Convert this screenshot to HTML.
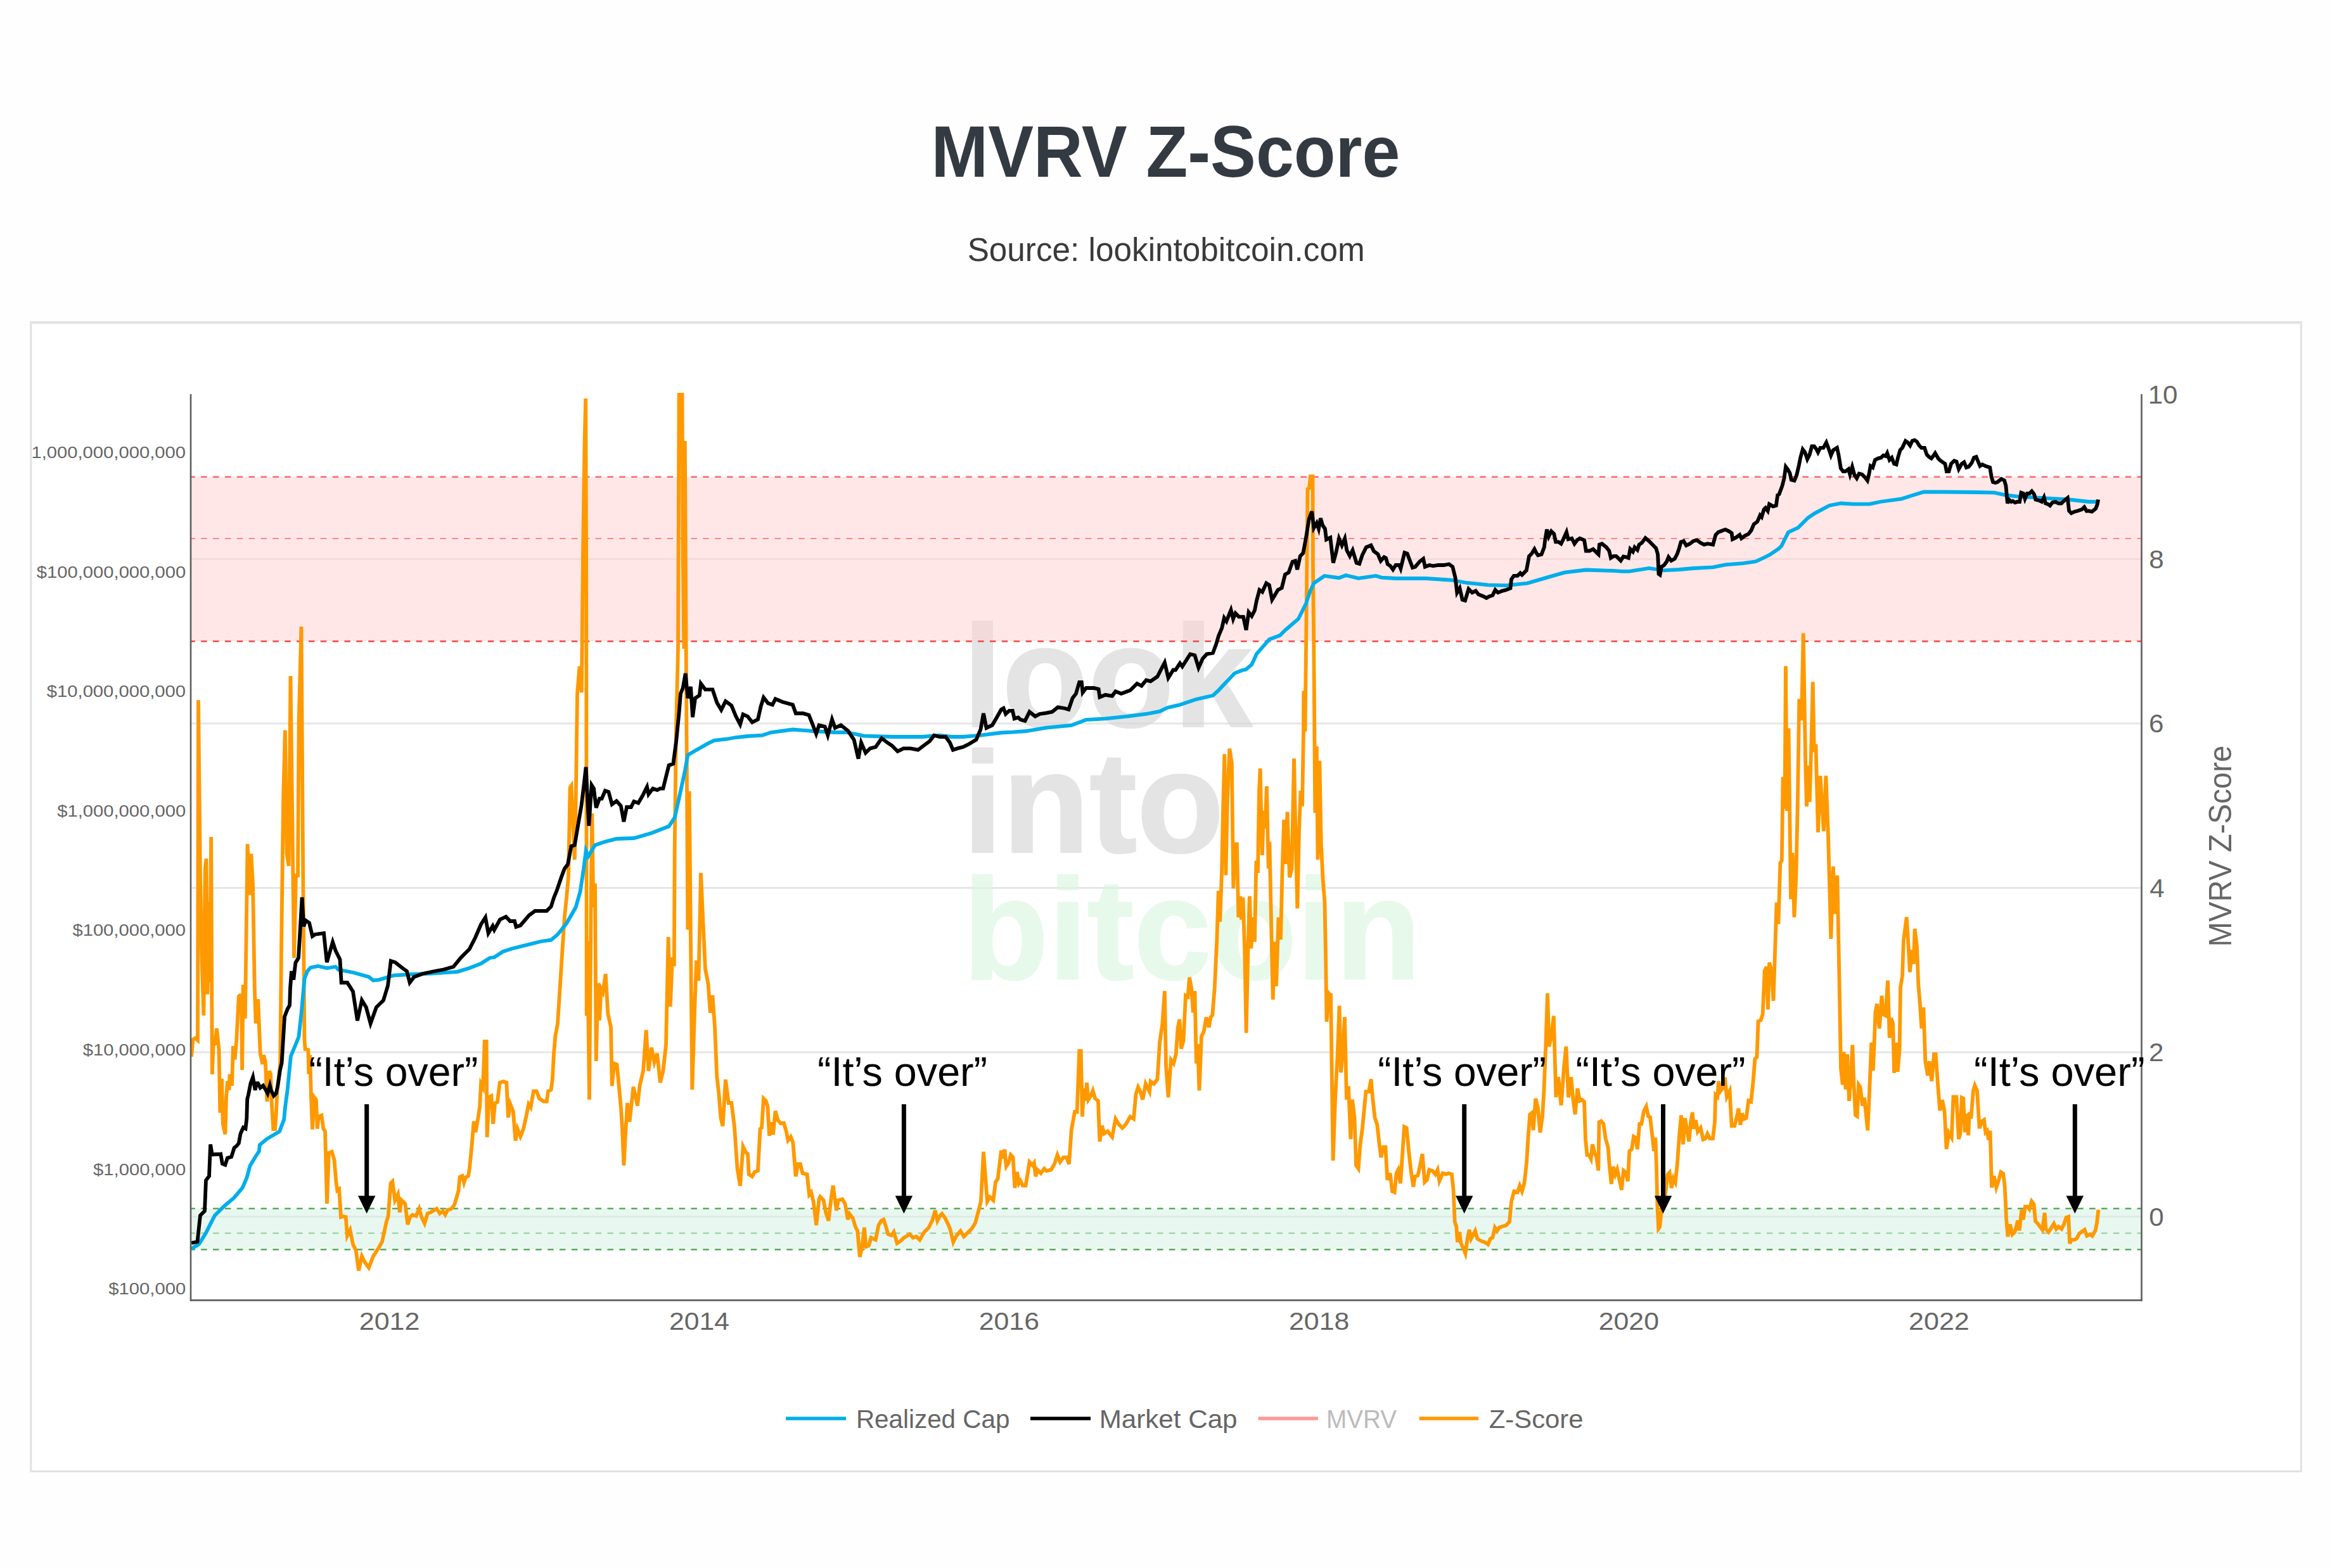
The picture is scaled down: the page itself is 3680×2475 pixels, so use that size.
<!DOCTYPE html><html><head><meta charset="utf-8"><title>MVRV Z-Score</title><style>html,body{margin:0;padding:0;background:#fefefe;width:3680px;height:2475px;overflow:hidden}svg{display:block;font-family:"Liberation Sans",sans-serif}</style></head><body><svg width="3680" height="2475" viewBox="0 0 3680 2475">
<rect width="3680" height="2475" fill="#fefefe"/>
<defs><clipPath id="pc"><rect x="301" y="620" width="3078" height="1432.4"/></clipPath><clipPath id="fc"><rect x="50" y="511" width="3581" height="1811"/></clipPath></defs>
<rect x="48.8" y="508.5" width="3582.5" height="1814" fill="#ffffff" stroke="#e0e2e2" stroke-width="3"/>
<line x1="48" x2="3633" y1="510.5" y2="510.5" stroke="#e6e7e7" stroke-width="2"/>
<line x1="301" x2="3379" y1="1920.50" y2="1920.50" stroke="#e6e6e6" stroke-width="3.2"/>
<line x1="301" x2="3379" y1="1661.00" y2="1661.00" stroke="#e6e6e6" stroke-width="3.2"/>
<line x1="301" x2="3379" y1="1401.50" y2="1401.50" stroke="#e6e6e6" stroke-width="3.2"/>
<line x1="301" x2="3379" y1="1142.00" y2="1142.00" stroke="#e6e6e6" stroke-width="3.2"/>
<line x1="301" x2="3379" y1="882.50" y2="882.50" stroke="#e6e6e6" stroke-width="3.2"/>
<g opacity="0.64"><text transform="translate(1519.77,1147) scale(0.9755,1)" font-family="Liberation Sans" font-weight="bold" font-size="227.5" fill="#d6d6d6" stroke="#d6d6d6" stroke-width="2.67" stroke-linejoin="round">look</text></g>
<g opacity="0.64"><text transform="translate(1519.57,1345) scale(0.9875,1)" font-family="Liberation Sans" font-weight="bold" font-size="227.5" fill="#d6d6d6" stroke="#d6d6d6" stroke-width="2.63" stroke-linejoin="round">into</text></g>
<g opacity="0.64"><text transform="translate(1519.87,1545) scale(0.9776,1)" font-family="Liberation Sans" font-weight="bold" font-size="225.5" fill="#dbf6e0" stroke="#dbf6e0" stroke-width="2.66" stroke-linejoin="round">bitcoin</text></g>
<rect x="301" y="752.75" width="3078" height="259.50" fill="#ffcfcf" fill-opacity="0.5"/>
<rect x="301" y="1907.53" width="3078" height="64.88" fill="#d1f1e1" fill-opacity="0.5"/>
<g clip-path="url(#pc)">
<line x1="298.34" x2="3379" y1="752.75" y2="752.75" stroke="#f46a6a" stroke-width="2.6" stroke-dasharray="9.5 9.36"/>
<line x1="298.34" x2="3379" y1="1012.25" y2="1012.25" stroke="#f24646" stroke-width="2.3" stroke-dasharray="9.5 9.36"/>
<line x1="298.34" x2="3379" y1="850.06" y2="850.06" stroke="#f97a7a" stroke-width="1.7" stroke-dasharray="9.5 9.36"/>
<line x1="298.34" x2="3379" y1="1907.53" y2="1907.53" stroke="#4b9f4b" stroke-width="2.2" stroke-dasharray="9.5 9.36"/>
<line x1="298.34" x2="3379" y1="1972.40" y2="1972.40" stroke="#4b9f4b" stroke-width="2.2" stroke-dasharray="9.5 9.36"/>
<line x1="298.34" x2="3379" y1="1946.45" y2="1946.45" stroke="#93cc98" stroke-width="2.0" stroke-dasharray="9.5 9.36"/>
</g>
<g clip-path="url(#pc)" fill="none" stroke-miterlimit="4" stroke-width="5.8">
<polyline stroke="#ff9900" points="302.0,1668.0 304.5,1641.0 308.0,1638.6 312.0,1642.0 313.0,1105.0 316.0,1386.0 318.7,1520.0 321.4,1603.0 323.7,1370.6 325.6,1355.3 327.5,1569.5 329.4,1424.0 331.3,1550.4 333.2,1321.0 334.8,1695.7 336.6,1649.3 339.3,1647.5 342.0,1623.4 345.5,1656.4 347.3,1756.4 350.0,1702.9 351.8,1774.3 355.4,1790.4 357.1,1731.4 359.0,1706.4 361.6,1720.7 362.5,1695.7 366.0,1713.6 367.9,1651.0 370.5,1672.5 373.2,1642.0 376.8,1572.5 378.4,1571.4 381.0,1573.3 382.1,1689.0 383.7,1554.2 386.8,1607.7 390.6,1332.4 393.7,1412.7 396.3,1347.7 399.0,1395.5 401.8,1560.0 403.6,1615.4 407.1,1577.0 410.7,1661.8 414.3,1679.6 416.0,1665.4 418.8,1676.0 421.4,1738.6 423.2,1720.7 425.0,1690.4 427.1,1695.7 428.6,1738.6 431.2,1782.3 434.0,1782.3 435.7,1758.2 437.5,1720.7 442.2,1680.0 444.1,1489.2 447.2,1255.9 449.9,1152.7 452.6,1347.7 455.6,1366.8 458.5,1067.0 461.3,1294.0 464.0,1512.0 467.0,1382.0 470.0,1382.0 471.7,1135.4 475.5,989.0 477.8,1321.0 480.4,1640.0 481.6,1656.0 486.4,1657.0 487.3,1695.5 489.2,1665.0 491.0,1732.0 493.0,1782.6 496.0,1732.0 498.8,1735.7 500.7,1781.6 502.6,1762.5 507.4,1760.6 510.3,1781.6 513.0,1785.4 516.0,1900.0 518.9,1820.0 523.7,1818.0 527.5,1831.0 530.4,1865.8 532.3,1879.0 535.2,1877.0 538.0,1921.0 540.9,1920.0 545.7,1921.0 548.0,1950.6 552.5,1941.5 557.0,1964.0 561.7,1973.6 566.0,2005.7 571.0,1982.8 575.5,1992.0 582.0,2001.0 589.0,1982.8 598.0,1969.0 603.0,1960.0 610.0,1927.7 612.6,1920.0 616.5,1867.7 619.3,1864.8 623.2,1894.5 628.0,1885.0 630.8,1913.6 633.7,1894.5 639.4,1900.0 643.3,1932.8 647.0,1921.3 651.0,1917.5 656.7,1919.4 661.4,1908.0 665.3,1921.3 670.0,1931.0 674.8,1915.5 679.6,1913.6 689.2,1908.0 694.0,1915.5 698.8,1911.7 702.6,1917.5 706.4,1909.8 712.2,1908.0 717.0,1902.0 719.8,1892.6 723.6,1879.2 725.5,1858.0 729.4,1856.2 732.2,1866.8 735.1,1858.0 739.0,1856.2 740.9,1844.7 744.7,1806.5 747.6,1770.0 750.4,1787.3 754.2,1766.3 757.1,1747.2 759.0,1710.8 762.0,1716.5 764.8,1643.8 767.6,1643.8 768.6,1795.0 771.5,1731.8 775.3,1730.0 778.2,1774.0 781.0,1741.4 784.9,1739.5 788.7,1708.9 794.4,1707.0 799.3,1708.7 802.0,1763.8 805.3,1743.0 809.9,1754.7 813.5,1800.6 816.7,1782.0 821.3,1793.7 826.0,1782.0 830.5,1761.5 834.2,1743.0 837.4,1747.8 842.0,1722.5 846.6,1722.5 851.2,1734.0 858.0,1738.6 862.7,1738.6 865.0,1722.5 869.6,1720.0 871.8,1704.0 874.0,1662.8 876.4,1635.0 880.0,1616.0 887.0,1507.0 890.7,1450.0 894.3,1414.0 897.0,1383.0 899.6,1243.0 901.7,1240.0 903.2,1275.0 906.8,1357.0 908.6,1271.0 911.0,1095.0 914.6,1051.7 917.8,1093.0 920.0,875.0 922.5,700.0 924.2,629.0 925.2,900.0 925.7,1603.6 927.0,1485.7 930.0,1735.7 932.9,1396.4 934.3,1284.0 936.4,1432.0 939.0,1394.6 940.7,1675.0 943.6,1551.8 946.0,1610.7 948.6,1560.7 951.4,1566.0 955.7,1537.5 959.3,1600.0 964.0,1621.4 965.7,1714.3 969.3,1678.6 973.6,1680.4 976.4,1710.7 980.0,1750.0 982.0,1782.0 984.4,1839.6 986.7,1796.0 990.0,1741.0 993.5,1770.7 999.5,1715.6 1006.0,1745.5 1009.6,1713.3 1015.0,1690.4 1019.7,1626.0 1023.4,1690.4 1028.0,1653.6 1032.6,1676.6 1037.0,1662.8 1041.8,1708.7 1046.4,1690.4 1051.0,1649.0 1054.6,1479.0 1057.8,1589.0 1061.0,1511.0 1063.8,1525.0 1064.7,1340.0 1067.0,1148.0 1070.0,1024.0 1071.6,615.0 1076.5,615.0 1077.6,870.0 1079.4,1024.0 1080.8,696.0 1083.0,1079.0 1085.4,1467.6 1087.7,1249.0 1092.3,1720.0 1096.0,1598.5 1099.0,1515.8 1102.4,1548.0 1106.0,1378.0 1109.7,1460.7 1113.0,1529.6 1117.5,1552.6 1120.8,1598.5 1124.4,1571.0 1128.0,1621.5 1131.3,1699.5 1134.5,1727.0 1137.3,1763.8 1140.5,1777.6 1145.0,1704.0 1149.7,1741.0 1154.3,1741.0 1158.9,1777.6 1163.5,1844.0 1168.0,1871.8 1172.6,1809.8 1177.0,1819.0 1180.0,1821.4 1181.8,1853.6 1187.0,1857.0 1190.7,1850.0 1196.0,1848.0 1199.6,1782.0 1202.0,1780.0 1205.0,1734.0 1208.6,1737.5 1211.4,1746.4 1214.0,1792.8 1216.8,1771.4 1220.0,1791.0 1223.6,1753.6 1227.5,1768.0 1231.8,1773.0 1237.0,1773.0 1240.7,1785.7 1243.6,1800.0 1247.9,1794.6 1251.4,1803.6 1255.7,1857.0 1259.3,1837.5 1262.9,1837.5 1266.4,1851.8 1273.6,1853.6 1277.0,1885.7 1280.0,1882.0 1283.6,1896.4 1288.2,1934.0 1292.5,1892.9 1294.3,1889.0 1299.6,1894.6 1303.2,1914.0 1307.5,1926.8 1311.4,1892.9 1314.6,1871.4 1317.5,1892.9 1320.0,1910.7 1322.9,1894.6 1329.3,1892.9 1333.6,1900.0 1337.9,1925.0 1340.7,1916.0 1346.0,1923.2 1349.6,1935.7 1353.2,1943.0 1356.8,1984.0 1360.4,1967.9 1364.0,1937.5 1366.4,1967.9 1371.0,1966.0 1374.6,1953.6 1378.2,1955.4 1381.8,1957.0 1386.4,1934.0 1390.7,1926.8 1394.3,1925.0 1397.9,1935.7 1401.4,1948.0 1406.8,1950.0 1410.4,1944.6 1415.7,1962.5 1421.0,1959.0 1426.4,1953.6 1430.0,1951.8 1435.4,1948.0 1440.7,1953.6 1446.0,1951.8 1451.4,1957.0 1458.6,1944.6 1465.7,1937.5 1471.0,1926.8 1475.7,1910.7 1479.3,1926.8 1482.9,1919.6 1486.4,1916.0 1490.7,1921.4 1496.0,1932.0 1499.6,1941.0 1504.3,1960.7 1508.6,1951.8 1515.7,1943.0 1521.0,1951.8 1528.2,1944.6 1533.6,1939.3 1539.0,1930.4 1544.3,1910.7 1547.9,1896.4 1552.0,1817.9 1555.0,1857.0 1557.9,1896.4 1562.0,1889.3 1567.5,1894.6 1571.0,1866.0 1574.6,1860.7 1580.0,1816.0 1582.9,1828.6 1585.4,1814.3 1587.9,1841.0 1591.4,1835.7 1595.0,1823.0 1598.6,1826.8 1601.4,1875.0 1605.0,1850.0 1607.9,1867.9 1610.4,1864.0 1614.0,1871.4 1618.6,1871.4 1624.6,1834.0 1629.3,1839.3 1631.8,1835.7 1634.3,1857.0 1637.0,1846.4 1642.5,1851.8 1647.9,1844.6 1651.4,1848.2 1658.6,1846.4 1664.0,1837.5 1668.6,1823.0 1672.9,1834.0 1678.2,1826.8 1682.9,1826.8 1687.0,1837.5 1690.7,1784.0 1696.0,1755.0 1699.6,1755.0 1703.2,1659.0 1705.7,1659.0 1707.9,1762.5 1710.4,1717.9 1712.9,1737.5 1715.0,1709.0 1717.5,1735.7 1721.0,1730.4 1724.6,1721.4 1728.2,1734.0 1732.9,1737.5 1735.4,1801.8 1739.0,1776.8 1742.5,1789.3 1747.9,1785.7 1755.0,1794.6 1760.4,1766.0 1765.7,1775.0 1771.0,1780.4 1776.4,1775.0 1783.6,1762.5 1789.0,1766.0 1792.5,1726.8 1796.0,1716.0 1799.6,1723.2 1803.2,1735.7 1807.9,1710.7 1814.0,1723.2 1815.7,1707.0 1821.0,1710.7 1826.4,1703.6 1830.0,1646.4 1834.3,1616.0 1837.9,1564.3 1840.0,1682.0 1843.6,1732.0 1847.9,1673.0 1852.0,1678.6 1855.7,1664.3 1858.6,1623.0 1861.4,1609.0 1864.0,1655.4 1867.5,1642.9 1871.0,1571.4 1874.6,1573.2 1877.0,1542.9 1880.0,1559.0 1882.9,1598.2 1885.4,1564.3 1887.9,1678.6 1890.0,1648.2 1892.5,1721.4 1896.0,1635.7 1899.6,1628.6 1903.5,1605.8 1907.7,1621.6 1910.5,1605.8 1913.3,1602.3 1916.8,1558.5 1920.3,1483.0 1922.8,1406.0 1925.2,1455.0 1928.0,1378.0 1929.8,1290.0 1932.3,1190.3 1934.4,1381.4 1936.8,1265.7 1940.3,1181.6 1943.8,1204.3 1946.3,1402.5 1949.0,1332.3 1951.9,1332.3 1954.3,1448.0 1957.0,1414.7 1959.0,1451.5 1961.4,1416.5 1964.2,1500.6 1966.6,1630.4 1969.4,1500.6 1971.9,1414.7 1974.3,1497.0 1977.1,1448.0 1980.0,1486.6 1982.4,1358.6 1984.9,1378.0 1987.0,1248.0 1988.7,1213.0 1990.5,1297.3 1991.9,1349.9 1994.0,1279.7 1996.4,1307.8 1998.9,1241.0 2001.7,1371.0 2003.4,1328.8 2007.0,1500.6 2008.7,1577.8 2011.5,1486.6 2014.0,1556.7 2017.5,1448.0 2021.0,1483.0 2023.4,1378.0 2026.2,1293.8 2029.0,1363.9 2031.5,1281.5 2035.0,1385.0 2038.5,1370.9 2042.0,1197.3 2044.5,1318.3 2047.3,1434.0 2050.0,1311.3 2052.5,1248.2 2055.0,1272.7 2057.0,1155.3 2057.3,1090.4 2059.5,1154.6 2062.0,934.3 2063.5,772.0 2066.0,770.5 2068.0,752.0 2071.5,752.0 2072.0,903.7 2073.2,1010.8 2075.3,1283.0 2077.8,1178.0 2079.5,1356.9 2082.3,1200.8 2084.8,1332.3 2087.6,1388.4 2090.4,1423.5 2092.1,1511.0 2093.5,1612.8 2096.4,1567.3 2099.2,1570.8 2100.0,1567.9 2103.6,1832.0 2107.0,1735.7 2110.7,1664.3 2113.6,1587.5 2116.0,1692.9 2118.6,1664.3 2122.0,1605.4 2125.0,1735.7 2127.9,1714.3 2131.4,1798.2 2134.0,1735.7 2137.5,1764.3 2140.0,1839.3 2143.6,1844.6 2146.4,1807.0 2150.0,1780.4 2155.4,1723.2 2160.0,1723.2 2163.6,1703.6 2166.0,1732.0 2169.6,1764.3 2173.2,1775.0 2176.8,1807.0 2179.3,1826.8 2182.9,1810.7 2186.4,1810.7 2189.3,1862.5 2193.6,1851.8 2197.0,1880.4 2200.7,1882.0 2203.6,1851.8 2206.4,1846.4 2210.0,1867.9 2213.6,1814.3 2216.0,1778.6 2219.6,1780.4 2223.2,1817.9 2226.8,1850.0 2230.4,1873.2 2232.9,1857.0 2237.5,1855.4 2241.0,1839.3 2244.6,1821.4 2248.2,1866.0 2251.8,1862.5 2255.4,1846.4 2260.7,1848.2 2265.0,1853.6 2268.6,1846.4 2271.4,1864.3 2276.8,1851.8 2282.0,1853.6 2285.7,1851.8 2291.0,1853.6 2293.6,1878.6 2295.7,1928.6 2298.2,1935.7 2300.0,1960.7 2302.9,1944.6 2305.4,1962.5 2308.9,1969.6 2312.5,1978.6 2316.0,1953.6 2318.6,1941.0 2321.4,1955.4 2327.9,1942.9 2331.4,1955.4 2337.5,1958.9 2342.9,1960.7 2348.2,1964.3 2351.8,1955.4 2355.4,1953.6 2359.0,1937.5 2362.5,1942.9 2366.0,1937.5 2371.4,1935.7 2376.8,1933.9 2382.0,1928.6 2385.0,1896.4 2389.3,1880.4 2394.6,1882.0 2398.2,1871.4 2401.8,1880.4 2405.4,1867.9 2409.0,1835.7 2411.4,1796.4 2414.3,1759.0 2417.0,1757.0 2419.6,1784.0 2423.2,1734.0 2426.8,1748.2 2430.4,1787.5 2434.0,1762.5 2436.4,1721.4 2439.3,1650.0 2442.0,1567.9 2444.6,1651.8 2448.2,1635.7 2451.8,1603.6 2455.4,1732.0 2459.0,1700.0 2463.6,1744.6 2467.9,1685.7 2471.4,1651.8 2475.0,1732.0 2479.3,1700.0 2482.0,1732.0 2485.7,1759.0 2489.3,1717.9 2492.9,1737.5 2496.4,1735.7 2500.0,1739.0 2502.0,1798.7 2504.5,1823.2 2507.6,1823.2 2510.6,1829.3 2513.0,1806.3 2516.0,1818.6 2519.2,1826.2 2522.3,1847.7 2523.5,1771.0 2526.5,1769.6 2530.5,1774.2 2533.6,1797.0 2537.6,1811.0 2539.7,1838.5 2542.8,1869.0 2545.8,1841.5 2549.0,1853.8 2552.0,1846.0 2555.0,1860.0 2559.0,1878.3 2562.0,1847.7 2565.7,1850.7 2568.8,1864.5 2571.3,1817.0 2575.0,1814.0 2578.0,1794.0 2581.0,1795.6 2584.0,1814.0 2587.2,1774.2 2590.2,1774.2 2594.0,1754.3 2597.9,1746.6 2601.0,1762.0 2604.0,1763.4 2607.0,1789.5 2610.0,1817.0 2612.3,1795.6 2614.0,1841.5 2615.4,1902.8 2617.2,1939.5 2619.3,1936.5 2621.5,1913.5 2624.0,1902.8 2626.4,1893.6 2628.5,1881.3 2631.6,1853.8 2634.6,1850.7 2637.7,1875.2 2640.8,1860.0 2643.8,1866.0 2647.0,1835.4 2650.0,1792.5 2653.0,1760.4 2656.0,1806.3 2659.0,1765.0 2662.2,1783.4 2665.3,1801.7 2668.3,1769.6 2670.8,1755.8 2673.0,1781.8 2676.0,1768.0 2679.0,1786.4 2683.6,1780.3 2687.6,1798.7 2691.3,1797.0 2694.4,1789.5 2698.0,1797.0 2703.0,1797.0 2706.0,1771.0 2707.2,1728.2 2710.3,1731.3 2712.0,1706.8 2715.2,1722.0 2719.5,1716.0 2722.0,1700.7 2725.0,1731.3 2729.6,1722.0 2732.6,1777.2 2737.2,1777.2 2741.0,1762.0 2743.4,1749.7 2746.4,1775.7 2748.9,1757.3 2752.0,1766.5 2755.6,1765.0 2759.3,1737.4 2763.2,1739.0 2766.3,1709.9 2769.4,1671.6 2772.4,1668.5 2774.6,1611.9 2778.6,1610.3 2781.6,1601.1 2784.7,1532.2 2787.7,1526.0 2789.9,1593.5 2792.0,1519.3 2795.7,1533.6 2798.5,1579.7 2802.0,1472.9 2803.6,1424.6 2806.4,1458.6 2809.3,1362.0 2811.8,1358.6 2813.6,1226.4 2816.4,1276.4 2817.9,1051.4 2820.0,1280.0 2822.5,1149.6 2826.0,1419.3 2828.6,1346.0 2831.4,1447.9 2834.3,1383.6 2836.8,1265.7 2839.3,1103.2 2842.9,1137.0 2845.7,999.6 2849.3,1212.0 2851.0,1272.9 2853.6,1208.6 2855.7,1265.7 2858.2,1180.0 2860.7,1076.4 2862.9,1187.0 2865.4,1174.6 2869.0,1313.9 2872.5,1224.6 2877.9,1312.0 2881.4,1224.6 2885.0,1319.3 2889.3,1481.8 2892.9,1367.5 2895.7,1442.5 2899.3,1381.8 2902.2,1531.0 2905.0,1686.3 2907.7,1712.2 2909.6,1660.4 2912.5,1719.6 2915.0,1664.0 2918.0,1738.0 2920.7,1701.0 2923.3,1649.3 2925.5,1712.2 2928.0,1760.2 2930.7,1762.0 2933.0,1712.2 2935.5,1715.9 2939.2,1745.4 2942.0,1732.5 2947.3,1784.3 2951.0,1701.0 2953.2,1645.6 2955.8,1690.0 2957.7,1645.6 2959.5,1597.5 2962.0,1584.6 2965.8,1623.4 2969.5,1571.6 2971.7,1601.2 2975.4,1603.0 2977.0,1579.0 2979.0,1547.6 2981.7,1638.2 2984.3,1606.8 2987.2,1616.0 2989.0,1693.7 2991.7,1645.6 2994.6,1691.8 2997.6,1656.7 2999.0,1558.7 3002.0,1540.2 3003.9,1484.7 3008.7,1447.7 3011.3,1488.4 3013.9,1534.6 3016.8,1499.5 3019.8,1521.7 3021.6,1466.2 3025.0,1494.0 3027.2,1553.0 3029.8,1584.6 3032.4,1623.4 3035.3,1590.1 3038.3,1675.2 3042.0,1697.4 3044.6,1675.2 3048.3,1706.6 3052.0,1664.0 3054.6,1664.0 3057.5,1704.8 3061.2,1752.8 3065.0,1736.2 3068.6,1754.7 3071.6,1813.9 3075.3,1788.0 3079.7,1795.4 3082.4,1731.5 3087.3,1731.5 3090.9,1798.0 3093.3,1789.6 3095.8,1732.7 3098.2,1733.9 3100.6,1787.2 3103.0,1758.0 3106.2,1792.0 3107.9,1755.7 3110.3,1765.4 3113.9,1721.8 3116.3,1713.3 3120.0,1721.8 3123.6,1781.1 3127.3,1770.2 3130.9,1767.8 3133.3,1787.2 3135.7,1784.8 3138.2,1799.3 3140.6,1784.8 3143.0,1874.4 3146.6,1856.3 3150.3,1874.4 3153.9,1863.5 3157.5,1850.2 3161.2,1852.6 3163.6,1872.0 3166.0,1923.0 3168.4,1952.0 3172.0,1932.6 3175.7,1948.4 3179.4,1944.7 3184.2,1926.5 3186.6,1942.3 3190.3,1909.6 3192.7,1925.3 3195.8,1904.7 3200.0,1904.7 3202.4,1908.4 3206.0,1896.2 3209.6,1901.0 3212.0,1927.7 3215.7,1931.4 3219.3,1936.2 3223.0,1941.0 3226.6,1914.4 3228.3,1939.9 3232.7,1944.7 3237.5,1937.4 3241.1,1931.4 3244.8,1939.9 3248.4,1936.2 3253.3,1939.9 3256.9,1932.6 3260.5,1921.7 3264.2,1920.5 3266.1,1962.9 3269.0,1956.8 3273.9,1956.8 3277.5,1954.4 3281.1,1947.1 3286.0,1943.5 3289.6,1941.0 3293.2,1950.8 3298.1,1948.4 3301.7,1950.8 3306.6,1942.3 3309.0,1930.2 3311.4,1909.6"/>
<polyline stroke="#00aeea" points="302.0,1971.0 313.8,1964.0 325.0,1946.0 332.0,1932.0 339.0,1918.5 352.8,1904.7 369.0,1891.0 382.6,1875.0 389.5,1858.8 394.6,1840.0 403.0,1826.0 408.9,1817.0 409.8,1807.3 421.4,1797.5 441.0,1785.9 448.2,1767.1 450.0,1747.5 453.6,1720.7 458.9,1667.1 471.4,1636.8 475.9,1595.7 480.5,1545.0 485.0,1533.0 490.0,1527.4 502.0,1525.0 515.8,1528.0 529.6,1526.0 534.0,1530.5 557.0,1535.0 582.0,1542.0 589.0,1547.5 598.0,1546.6 621.0,1539.7 649.0,1538.0 681.0,1536.5 722.0,1533.8 740.8,1528.0 759.0,1521.0 773.0,1512.0 780.0,1511.0 793.8,1502.0 807.6,1497.5 835.0,1490.6 853.5,1486.0 869.6,1483.7 880.0,1475.0 894.3,1457.0 908.6,1432.0 915.7,1407.0 921.0,1371.4 924.6,1343.0 928.2,1351.8 939.0,1334.0 955.0,1328.6 973.0,1324.0 1000.4,1323.0 1028.0,1315.0 1055.5,1304.3 1064.7,1290.5 1074.0,1249.0 1080.8,1217.0 1085.4,1191.8 1096.9,1185.0 1117.5,1173.4 1126.7,1168.8 1147.4,1166.5 1161.0,1164.0 1180.0,1162.0 1203.0,1160.7 1216.7,1156.0 1251.0,1151.5 1281.0,1153.8 1317.8,1156.0 1336.0,1156.0 1363.7,1161.7 1409.6,1163.0 1455.5,1163.0 1483.0,1160.7 1501.5,1163.0 1519.8,1163.0 1547.4,1160.7 1580.0,1156.5 1597.9,1155.7 1619.3,1154.0 1651.4,1148.6 1690.7,1145.0 1714.0,1136.0 1744.3,1134.3 1780.0,1130.7 1808.6,1127.0 1830.0,1122.9 1842.5,1117.0 1860.4,1112.9 1887.0,1104.0 1914.0,1097.9 1922.9,1089.6 1947.9,1062.9 1960.0,1058.0 1966.0,1056.7 1975.3,1049.0 1983.0,1032.2 2002.9,1009.3 2019.7,1003.0 2028.9,994.0 2048.8,977.0 2061.0,952.6 2067.0,934.3 2073.3,920.5 2090.0,909.0 2113.0,912.2 2123.8,908.0 2143.7,912.8 2171.2,909.0 2180.0,911.6 2202.5,913.0 2250.2,913.0 2292.3,915.8 2314.7,920.0 2348.4,923.4 2376.5,924.2 2410.2,920.6 2441.0,911.6 2469.0,903.7 2502.8,899.5 2545.0,900.9 2560.0,901.8 2571.2,901.8 2602.1,897.0 2616.1,899.0 2624.6,900.4 2649.8,899.0 2672.3,897.0 2703.2,895.3 2722.8,891.4 2750.9,889.1 2770.5,886.3 2780.0,882.0 2792.0,876.1 2806.4,866.5 2811.2,861.7 2822.0,840.1 2837.6,832.9 2853.2,817.3 2864.0,810.1 2886.9,798.0 2904.9,794.5 2924.0,795.7 2950.5,795.7 2967.3,792.0 3001.0,787.3 3020.0,781.3 3035.8,776.5 3068.2,776.5 3116.2,777.0 3147.4,777.7 3164.2,781.3 3183.5,783.7 3212.3,785.4 3236.3,786.8 3265.1,788.5 3296.3,792.0 3310.7,792.0"/>
<polyline stroke="#000000" points="302.0,1962.0 311.5,1960.0 316.0,1918.5 323.0,1911.6 325.0,1863.0 330.0,1856.5 332.1,1806.4 334.8,1822.5 341.0,1822.0 346.0,1822.0 348.2,1821.6 350.9,1836.8 355.4,1838.6 358.9,1827.9 365.2,1826.0 369.6,1811.8 373.2,1809.0 376.8,1804.6 379.5,1789.5 383.9,1779.6 387.5,1781.4 389.3,1765.4 390.2,1735.0 392.0,1727.9 395.5,1710.0 399.1,1700.2 402.7,1720.7 404.5,1710.0 407.1,1710.0 410.7,1717.1 415.2,1713.6 419.6,1720.7 422.3,1726.0 425.9,1713.6 427.7,1720.7 432.1,1729.6 435.7,1726.0 438.4,1713.6 442.0,1688.6 444.6,1677.9 449.1,1604.6 453.6,1593.0 457.1,1586.8 458.0,1560.0 460.0,1533.0 463.3,1546.5 466.3,1519.8 471.0,1512.0 474.0,1462.4 476.6,1416.5 479.3,1462.4 482.4,1452.8 488.0,1456.7 493.0,1477.7 497.0,1475.0 511.0,1473.0 515.8,1519.0 525.0,1487.0 529.6,1500.7 536.5,1514.5 538.7,1551.0 548.0,1551.0 557.0,1565.0 564.0,1611.0 571.0,1578.7 577.8,1590.0 584.7,1615.5 593.8,1590.0 605.0,1579.0 612.0,1556.0 616.8,1516.8 623.7,1519.0 635.0,1528.0 642.0,1533.0 646.6,1551.0 653.5,1542.0 667.0,1537.0 685.7,1533.0 699.4,1530.5 715.5,1526.0 727.0,1512.0 740.8,1498.0 750.0,1480.0 759.0,1459.0 766.0,1448.0 770.6,1473.0 777.5,1461.7 780.0,1467.6 789.0,1451.5 798.4,1447.0 805.0,1454.0 812.0,1454.0 814.4,1463.0 821.3,1460.7 835.0,1444.7 844.3,1437.8 862.7,1437.8 869.6,1431.0 874.0,1417.0 878.7,1405.6 885.4,1385.7 890.7,1371.4 896.0,1364.3 901.4,1335.7 906.8,1334.0 912.0,1303.6 917.5,1271.4 921.0,1242.9 924.6,1210.7 929.3,1303.6 933.6,1239.3 937.0,1244.6 940.7,1275.0 946.0,1260.7 949.6,1260.7 955.0,1248.2 960.4,1250.0 965.7,1269.6 972.9,1264.3 979.8,1272.0 984.4,1297.0 989.0,1274.0 995.8,1274.0 1000.4,1265.0 1007.3,1267.5 1014.0,1256.0 1021.0,1242.0 1023.4,1253.7 1030.3,1244.6 1037.0,1247.0 1041.8,1244.6 1046.4,1244.6 1051.0,1226.0 1055.5,1208.0 1062.4,1205.5 1067.0,1171.0 1071.6,1125.0 1074.0,1095.0 1077.6,1086.0 1081.7,1063.0 1085.4,1102.0 1090.0,1084.0 1093.0,1132.0 1097.0,1102.0 1103.8,1097.6 1106.0,1079.0 1113.0,1088.4 1124.4,1088.4 1131.3,1109.0 1138.2,1120.6 1145.0,1106.8 1154.3,1113.7 1161.0,1130.0 1168.0,1143.5 1172.6,1127.5 1180.0,1131.0 1187.0,1140.0 1196.0,1135.5 1200.7,1114.8 1205.0,1101.0 1212.0,1110.0 1219.0,1112.5 1223.6,1103.3 1235.0,1108.0 1251.0,1112.5 1255.8,1126.0 1267.0,1126.0 1276.4,1128.6 1281.0,1140.0 1288.0,1158.4 1292.5,1144.7 1301.7,1147.0 1306.3,1160.7 1313.0,1135.5 1317.8,1149.0 1327.0,1144.7 1338.4,1153.8 1347.6,1167.6 1354.5,1197.5 1359.0,1172.2 1366.0,1188.3 1373.0,1181.4 1382.0,1179.0 1391.3,1165.3 1400.4,1172.2 1407.3,1176.8 1416.5,1186.0 1425.7,1181.4 1437.0,1181.4 1448.7,1183.7 1457.8,1176.8 1467.0,1170.0 1474.0,1160.7 1483.0,1163.0 1492.3,1163.0 1499.0,1172.2 1503.8,1183.7 1510.7,1181.4 1519.8,1179.0 1529.0,1174.5 1540.5,1167.6 1547.4,1151.5 1552.0,1126.0 1556.6,1149.0 1565.8,1144.7 1572.6,1133.0 1580.0,1120.0 1583.6,1118.0 1587.0,1127.0 1592.5,1121.8 1597.9,1121.8 1600.7,1134.3 1606.8,1132.5 1610.4,1136.0 1617.5,1137.9 1624.6,1123.6 1633.6,1130.7 1640.7,1127.0 1651.4,1125.4 1660.4,1123.6 1669.3,1116.4 1680.0,1118.0 1686.4,1120.0 1692.5,1102.0 1697.9,1095.0 1703.2,1077.0 1706.8,1077.0 1708.6,1093.0 1714.0,1086.0 1726.4,1086.0 1733.6,1087.9 1735.4,1100.4 1744.3,1096.8 1755.0,1098.6 1760.4,1091.4 1769.3,1095.0 1783.6,1089.6 1794.3,1079.0 1801.4,1082.5 1808.6,1073.6 1815.7,1075.4 1826.4,1068.0 1831.8,1057.5 1837.9,1045.7 1843.6,1070.0 1851.4,1057.5 1855.0,1057.5 1862.0,1046.8 1865.7,1052.0 1878.2,1032.5 1885.4,1034.3 1891.4,1054.0 1897.9,1039.6 1904.3,1032.5 1914.0,1030.7 1919.3,1016.4 1922.9,1004.0 1928.2,991.4 1931.8,975.4 1935.4,980.7 1942.5,963.0 1946.0,977.0 1949.6,968.0 1955.0,973.6 1962.0,973.6 1966.5,994.5 1970.5,966.4 1975.3,972.5 1980.0,963.4 1983.0,948.0 1987.5,931.2 1992.0,934.3 1998.3,920.5 2002.9,923.5 2007.4,946.5 2012.0,938.9 2016.6,931.2 2022.7,928.0 2028.0,906.7 2033.5,903.7 2039.6,886.8 2044.0,885.3 2047.2,899.0 2051.8,877.6 2056.4,873.0 2061.0,848.6 2065.6,819.5 2070.2,807.2 2073.3,833.3 2077.8,825.6 2080.9,834.8 2084.0,818.0 2087.0,828.7 2091.0,834.8 2093.0,851.6 2099.3,848.6 2103.9,888.4 2108.5,871.5 2113.0,850.0 2117.6,860.8 2122.2,850.0 2125.3,868.5 2130.0,877.6 2134.5,868.5 2140.6,888.4 2145.2,889.9 2149.8,876.0 2155.9,863.9 2163.5,860.8 2168.0,870.0 2174.3,874.6 2178.9,885.3 2184.2,879.3 2187.0,880.7 2189.8,890.5 2194.0,893.3 2198.2,899.0 2202.5,892.0 2208.0,892.0 2210.3,897.5 2216.5,872.3 2220.7,873.7 2229.0,896.0 2233.3,894.7 2240.4,886.3 2246.0,882.0 2248.8,894.7 2255.8,892.0 2261.4,893.3 2269.8,892.0 2278.2,892.0 2286.7,890.5 2292.3,894.7 2296.5,911.6 2299.3,935.4 2303.5,928.4 2307.7,946.7 2312.0,948.0 2317.5,929.8 2323.2,935.4 2328.8,932.6 2333.0,938.2 2340.0,941.0 2345.6,943.9 2351.2,941.0 2355.4,939.6 2359.6,931.2 2363.9,935.4 2370.9,932.6 2376.5,931.2 2383.5,928.4 2385.0,914.4 2389.0,908.8 2394.7,908.8 2399.0,904.6 2401.8,907.4 2408.8,900.4 2413.0,877.9 2417.2,873.7 2421.4,866.7 2424.2,872.3 2427.0,876.5 2432.6,875.0 2436.8,863.9 2438.2,852.6 2441.0,835.8 2443.9,847.0 2448.0,838.6 2452.3,842.8 2455.0,855.4 2459.3,855.4 2463.5,858.2 2466.3,852.6 2472.0,840.0 2474.7,851.2 2480.4,849.8 2484.6,858.2 2488.8,852.6 2493.0,849.8 2500.0,852.6 2502.8,869.5 2508.4,869.5 2514.0,866.7 2519.6,872.3 2522.5,875.0 2523.9,859.6 2528.0,858.2 2535.0,863.9 2539.3,869.5 2542.0,880.7 2546.3,877.9 2550.5,877.9 2557.6,884.9 2561.8,878.5 2566.0,879.3 2569.8,880.7 2572.6,866.7 2576.8,870.9 2579.6,863.9 2583.9,868.0 2586.7,859.6 2590.9,856.8 2596.5,849.3 2602.1,854.0 2606.3,858.2 2610.5,862.5 2613.3,865.3 2616.1,875.0 2617.5,906.0 2619.5,907.4 2621.8,894.7 2626.0,892.0 2630.2,886.3 2633.0,879.3 2637.2,885.0 2642.8,882.0 2647.0,873.7 2649.8,865.3 2652.6,855.4 2656.8,854.0 2661.0,861.0 2666.7,858.2 2672.3,854.0 2677.9,852.6 2683.5,856.8 2689.1,859.6 2694.7,858.2 2703.2,859.6 2707.4,844.2 2711.6,840.0 2718.6,837.2 2722.8,835.8 2728.4,838.6 2732.6,841.4 2734.0,851.2 2739.6,848.4 2745.3,844.2 2748.0,849.8 2753.7,845.6 2759.3,842.8 2763.5,837.2 2767.7,827.4 2773.3,823.2 2777.5,813.3 2780.0,816.0 2783.6,804.0 2786.0,801.7 2789.6,806.5 2792.0,795.7 2798.0,799.3 2802.8,798.0 2805.2,781.3 2807.6,780.0 2812.4,766.9 2815.5,754.9 2818.0,736.8 2820.8,740.5 2824.4,746.5 2826.8,757.3 2831.6,758.5 2835.2,750.0 2838.8,734.4 2841.2,722.4 2844.8,709.2 2848.4,714.0 2852.0,724.8 2855.6,717.6 2859.2,704.4 2862.9,704.4 2866.5,709.2 2868.9,714.0 2872.5,706.8 2877.3,706.8 2882.0,698.4 2886.9,711.6 2889.3,718.8 2892.9,710.4 2898.9,706.8 2901.3,717.6 2904.9,739.3 2908.5,744.0 2912.0,744.0 2916.9,740.5 2919.3,748.9 2922.9,736.8 2926.5,750.0 2930.0,754.9 2933.7,747.7 2938.5,748.9 2943.3,753.7 2946.9,758.5 2949.3,748.9 2951.7,735.6 2955.3,738.0 2958.9,726.0 2963.7,723.6 2968.5,722.4 2972.1,718.8 2975.7,720.0 2978.1,715.2 2981.7,726.0 2985.3,722.4 2989.0,732.0 2992.5,733.2 2995.0,722.4 2998.5,710.4 3002.0,706.8 3007.0,696.0 3010.5,698.4 3014.2,703.2 3017.7,696.0 3021.4,694.8 3025.0,697.2 3028.6,703.2 3032.2,706.8 3037.0,706.8 3040.6,717.6 3044.2,721.2 3047.8,723.6 3051.4,718.8 3053.8,715.2 3058.6,723.6 3062.2,727.2 3065.8,729.6 3069.4,732.0 3071.8,744.0 3075.4,744.0 3079.0,732.0 3083.8,727.2 3087.4,728.4 3091.0,740.5 3095.8,732.0 3099.4,729.6 3103.0,738.0 3106.6,736.8 3111.4,730.8 3115.0,722.4 3118.6,721.2 3121.0,727.2 3124.6,735.6 3128.2,733.2 3133.0,735.6 3140.2,738.0 3142.6,752.5 3145.0,760.9 3148.6,762.0 3152.2,760.9 3158.2,756.0 3163.0,758.5 3165.4,766.9 3167.9,794.5 3170.3,788.5 3173.9,792.0 3176.2,790.9 3179.9,793.3 3183.5,792.0 3187.0,792.0 3189.5,777.7 3193.0,778.9 3195.5,787.3 3199.0,778.9 3202.7,778.9 3206.3,775.3 3209.9,780.0 3212.3,788.5 3217.0,789.7 3221.9,792.0 3225.5,784.9 3227.9,794.5 3231.5,795.7 3235.0,798.0 3238.7,793.3 3243.5,792.0 3248.3,794.5 3253.0,794.5 3257.9,789.7 3262.7,786.0 3265.1,806.5 3268.7,810.0 3273.5,807.7 3278.3,806.5 3281.9,805.3 3285.5,804.0 3289.1,800.5 3292.7,806.5 3296.3,806.5 3301.0,807.7 3307.0,802.9 3309.5,796.9 3311.2,788.5"/>
</g>
<line x1="301" x2="301" y1="622" y2="2053.8" stroke="#5e5e5e" stroke-width="2.6"/>
<line x1="3379.5" x2="3379.5" y1="622" y2="2053.8" stroke="#5e5e5e" stroke-width="2.6"/>
<line x1="300" x2="3380.8" y1="2052.4" y2="2052.4" stroke="#5e5e5e" stroke-width="2.8"/>
<text transform="translate(1469.46,279.00) scale(0.9404,1)" font-family="Liberation Sans" font-weight="bold" font-size="114.5" fill="#343a42">MVRV Z-Score</text>
<text transform="translate(1526.64,412.40) scale(0.9824,1)" font-family="Liberation Sans" font-weight="normal" font-size="52.2" fill="#3a3a3a">Source: lookintobitcoin.com</text>
<g clip-path="url(#fc)">
<text transform="translate(487.43,1713.60) scale(0.9873,1)" font-family="Liberation Sans" font-weight="normal" font-size="65.2" fill="#000000">“It’s over”</text>
<text transform="translate(1289.91,1713.60) scale(0.9918,1)" font-family="Liberation Sans" font-weight="normal" font-size="65.2" fill="#000000">“It’s over”</text>
<text transform="translate(2174.24,1713.60) scale(0.9824,1)" font-family="Liberation Sans" font-weight="normal" font-size="65.2" fill="#000000">“It’s over”</text>
<text transform="translate(2486.62,1713.60) scale(0.9903,1)" font-family="Liberation Sans" font-weight="normal" font-size="65.2" fill="#000000">“It’s over”</text>
<text transform="translate(3115.00,1713.60) scale(0.9964,1)" font-family="Liberation Sans" font-weight="normal" font-size="65.2" fill="#000000">“It’s over”</text>
<text transform="translate(566.70,2098.90) scale(1.0930,1)" font-family="Liberation Sans" font-weight="normal" font-size="39.4" fill="#666666">2012</text>
<text transform="translate(1056.05,2098.90) scale(1.0828,1)" font-family="Liberation Sans" font-weight="normal" font-size="39.4" fill="#666666">2014</text>
<text transform="translate(1544.70,2098.90) scale(1.0879,1)" font-family="Liberation Sans" font-weight="normal" font-size="39.4" fill="#666666">2016</text>
<text transform="translate(2034.03,2098.90) scale(1.0879,1)" font-family="Liberation Sans" font-weight="normal" font-size="39.4" fill="#666666">2018</text>
<text transform="translate(2522.69,2098.90) scale(1.0879,1)" font-family="Liberation Sans" font-weight="normal" font-size="39.4" fill="#666666">2020</text>
<text transform="translate(3012.01,2098.90) scale(1.0930,1)" font-family="Liberation Sans" font-weight="normal" font-size="39.4" fill="#666666">2022</text>
<text transform="translate(33.20,723.00) scale(1.1500,1)" font-family="Liberation Sans" font-weight="normal" font-size="25.4" fill="#666666">$1,000,000,000,000</text>
<text transform="translate(57.74,911.60) scale(1.1500,1)" font-family="Liberation Sans" font-weight="normal" font-size="25.4" fill="#666666">$100,000,000,000</text>
<text transform="translate(73.80,1100.20) scale(1.1500,1)" font-family="Liberation Sans" font-weight="normal" font-size="25.4" fill="#666666">$10,000,000,000</text>
<text transform="translate(90.16,1288.80) scale(1.1500,1)" font-family="Liberation Sans" font-weight="normal" font-size="25.4" fill="#666666">$1,000,000,000</text>
<text transform="translate(114.40,1477.40) scale(1.1500,1)" font-family="Liberation Sans" font-weight="normal" font-size="25.4" fill="#666666">$100,000,000</text>
<text transform="translate(130.76,1666.00) scale(1.1500,1)" font-family="Liberation Sans" font-weight="normal" font-size="25.4" fill="#666666">$10,000,000</text>
<text transform="translate(147.12,1854.60) scale(1.1500,1)" font-family="Liberation Sans" font-weight="normal" font-size="25.4" fill="#666666">$1,000,000</text>
<text transform="translate(171.36,2043.20) scale(1.1500,1)" font-family="Liberation Sans" font-weight="normal" font-size="25.4" fill="#666666">$100,000</text>
<text transform="translate(3389.63,637.20) scale(1.0400,1)" font-family="Liberation Sans" font-weight="normal" font-size="40.5" fill="#666666">10</text>
<text transform="translate(3391.32,896.70) scale(1.0400,1)" font-family="Liberation Sans" font-weight="normal" font-size="40.5" fill="#666666">8</text>
<text transform="translate(3390.89,1156.20) scale(1.0400,1)" font-family="Liberation Sans" font-weight="normal" font-size="40.5" fill="#666666">6</text>
<text transform="translate(3392.16,1415.70) scale(1.0400,1)" font-family="Liberation Sans" font-weight="normal" font-size="40.5" fill="#666666">4</text>
<text transform="translate(3390.89,1675.20) scale(1.0400,1)" font-family="Liberation Sans" font-weight="normal" font-size="40.5" fill="#666666">2</text>
<text transform="translate(3391.32,1934.70) scale(1.0400,1)" font-family="Liberation Sans" font-weight="normal" font-size="40.5" fill="#666666">0</text>
<text transform="translate(1350.97,2254.00) scale(0.9876,1)" font-family="Liberation Sans" font-weight="normal" font-size="40.9" fill="#666666">Realized Cap</text>
<text transform="translate(1734.63,2254.00) scale(1.0313,1)" font-family="Liberation Sans" font-weight="normal" font-size="40.9" fill="#666666">Market Cap</text>
<text transform="translate(2092.90,2254.00) scale(0.9464,1)" font-family="Liberation Sans" font-weight="normal" font-size="40.9" fill="#bbbbbb">MVRV</text>
<text transform="translate(2349.74,2254.00) scale(1.0237,1)" font-family="Liberation Sans" font-weight="normal" font-size="40.9" fill="#666666">Z-Score</text>
</g>
<text transform="translate(3520.6,1494.49) rotate(-90) scale(0.9618,1)" font-family="Liberation Sans" font-size="49.3" fill="#666666">MVRV Z-Score</text>
<rect x="575.2" y="1743" width="7" height="146" fill="#000"/>
<polygon points="565.0,1887.5 592.4,1887.5 578.7,1915.5" fill="#000"/>
<rect x="1422.9" y="1743" width="7" height="146" fill="#000"/>
<polygon points="1412.7,1887.5 1440.1,1887.5 1426.4,1915.5" fill="#000"/>
<rect x="2307.2" y="1743" width="7" height="146" fill="#000"/>
<polygon points="2297.0,1887.5 2324.4,1887.5 2310.7,1915.5" fill="#000"/>
<rect x="2621.0" y="1743" width="7" height="146" fill="#000"/>
<polygon points="2610.8,1887.5 2638.2,1887.5 2624.5,1915.5" fill="#000"/>
<rect x="3270.8" y="1743" width="7" height="146" fill="#000"/>
<polygon points="3260.6,1887.5 3288.0,1887.5 3274.3,1915.5" fill="#000"/>
<line x1="1240.1" x2="1335.1" y1="2239" y2="2239" stroke="#00aeea" stroke-width="5.7"/>
<line x1="1626" x2="1721" y1="2239" y2="2239" stroke="#000000" stroke-width="5.7"/>
<line x1="1985.6" x2="2080" y1="2239" y2="2239" stroke="#ff9999" stroke-width="5.7"/>
<line x1="2239.7" x2="2333" y1="2239" y2="2239" stroke="#ff9900" stroke-width="5.7"/>
</svg></body></html>
